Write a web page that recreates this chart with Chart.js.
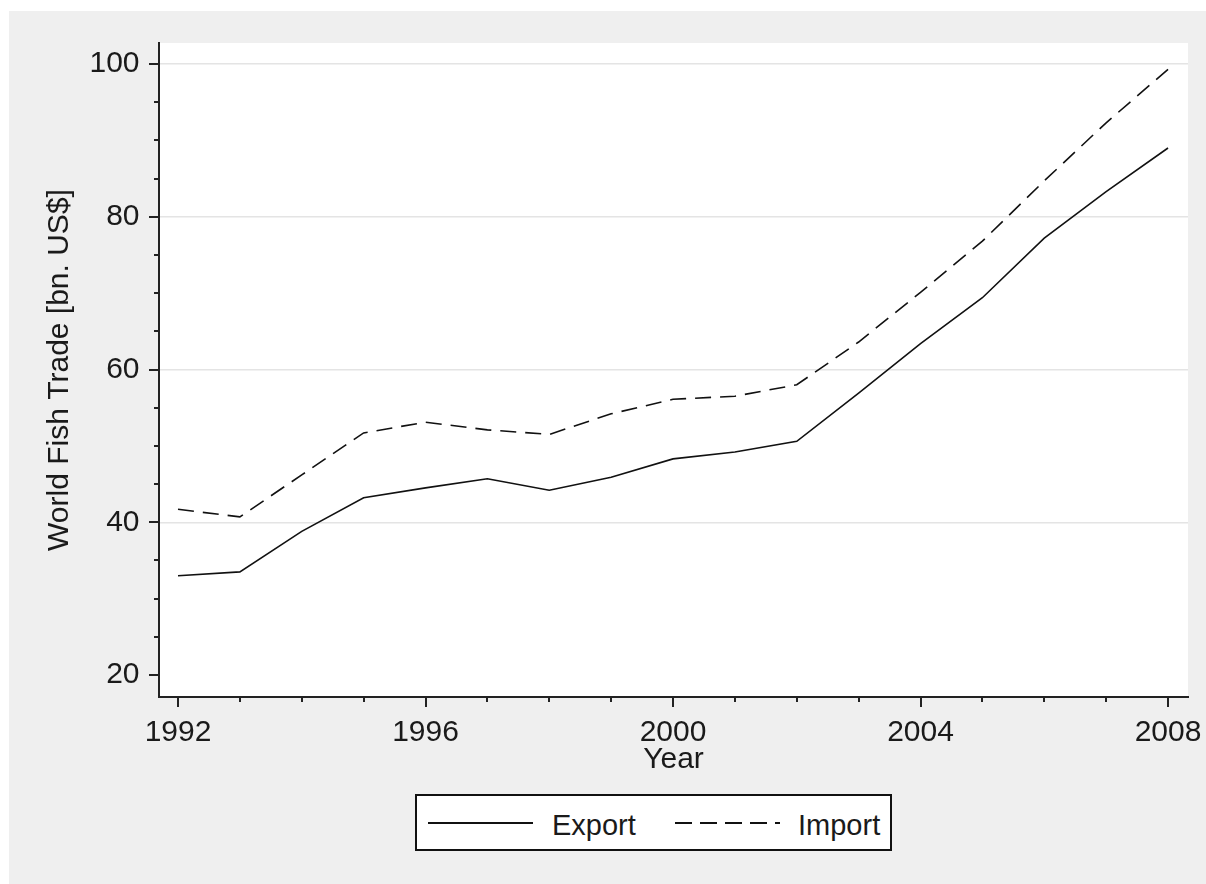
<!DOCTYPE html>
<html>
<head>
<meta charset="utf-8">
<script src="https://cdn.jsdelivr.net/npm/chart.js@4.4.1/dist/chart.umd.min.js"></script>
<style>
  body { margin: 0; background: #fff; font-family: "Liberation Sans", Arial, sans-serif; }
  #fundo { position: absolute; left: 9px; top: 11px; width: 1197px; height: 873px; background: #efefef; }
  #fundo canvas { position: absolute; left: 0; top: 0; }
  #legenda { position: absolute; left: 406px; top: 783px; width: 477px; height: 57px; box-sizing: border-box;
    border: 2px solid #111; background: #fff; color: #1a1a1a; font-size: 29px; }
  #legenda .linha { position: absolute; top: 26px; width: 105px; height: 2px; }
  #legenda span { position: absolute; top: 15px; line-height: 29px; }
</style>
</head>
<body>
<div id="fundo">
  <canvas id="grafico" width="1197" height="873"></canvas>
  <div id="legenda">
    <div class="linha" style="left:11px; background:#111"></div>
    <span style="left:135px">Export</span>
    <svg class="linha" style="left:258px" width="105" height="2"><line x1="0" y1="1" x2="105" y2="1" stroke="#111" stroke-width="2" stroke-dasharray="17 8"/></svg>
    <span style="left:381px">Import</span>
  </div>
</div>
<script>
// dados (bilhões de US$)
const anos = [1992, 1993, 1994, 1995, 1996, 1997, 1998, 1999, 2000, 2001, 2002, 2003, 2004, 2005, 2006, 2007, 2008]
const exportacao = [33.0, 33.5, 38.8, 43.2, 44.5, 45.7, 44.2, 45.9, 48.3, 49.2, 50.6, 56.9, 63.4, 69.4, 77.2, 83.3, 89.0]
const importacao = [41.7, 40.7, 46.2, 51.7, 53.1, 52.1, 51.5, 54.2, 56.1, 56.5, 58.0, 63.6, 70.1, 76.8, 84.7, 92.3, 99.3]
const marcasX = [1992, 1996, 2000, 2004, 2008]
const marcasY = [20, 40, 60, 80, 100]

Chart.defaults.font.family = '"Liberation Sans", Arial, sans-serif'
Chart.defaults.font.size = 30
Chart.defaults.color = '#1a1a1a'

// fundo branco da área do gráfico + tracinhos dos eixos
const tracinhos = {
  id: 'tracinhos',
  beforeDraw(chart) {
    const {ctx, chartArea: a} = chart
    ctx.save()
    ctx.fillStyle = '#fff'
    ctx.fillRect(a.left, a.top, a.right - a.left, a.bottom - a.top)
    ctx.restore()
  },
  afterDraw(chart) {
    const {ctx, chartArea: a, scales} = chart
    ctx.save()
    ctx.strokeStyle = '#222'
    ctx.lineWidth = 2
    scales.x.ticks.forEach(t => {
      const px = Math.round(scales.x.getPixelForValue(t.value))
      const len = marcasX.includes(t.value) ? 10 : 5
      ctx.beginPath(); ctx.moveTo(px, a.bottom); ctx.lineTo(px, a.bottom + len); ctx.stroke()
    })
    scales.y.ticks.forEach(t => {
      const py = Math.round(scales.y.getPixelForValue(t.value))
      const len = marcasY.includes(t.value) ? 10 : 5
      ctx.beginPath(); ctx.moveTo(a.left, py); ctx.lineTo(a.left - len, py); ctx.stroke()
    })
    ctx.restore()
  }
}

const ctx = document.getElementById('grafico')
new Chart(ctx, {
  type: 'line',
  data: {
    datasets: [{
      label: 'Export',
      data: anos.map((ano, i) => ({x: ano, y: exportacao[i]})),
      borderColor: '#111',
      borderWidth: 1.6,
      pointRadius: 0,
      tension: 0
    }, {
      label: 'Import',
      data: anos.map((ano, i) => ({x: ano, y: importacao[i]})),
      borderColor: '#111',
      borderWidth: 1.6,
      borderDash: [16, 9],
      pointRadius: 0,
      tension: 0
    }]
  },
  options: {
    responsive: false,
    animation: false,
    devicePixelRatio: 1,
    layout: { padding: { top: 32, right: 18, bottom: 106.5, left: 0 } },
    plugins: { legend: { display: false }, tooltip: { enabled: false } },
    scales: {
      x: {
        type: 'linear',
        min: 1991.693,
        max: 2008.323,
        border: { color: '#222', width: 2 },
        grid: { drawOnChartArea: false, drawTicks: false },
        ticks: {
          stepSize: 1, includeBounds: false, autoSkip: false, maxRotation: 0, padding: 18,
          callback: v => marcasX.includes(v) ? String(v) : ''
        },
        title: { display: true, text: 'Year', padding: 0 },
        afterFit: s => { s.height = 80.5; s.paddingLeft = 0; s.paddingRight = 0 }
      },
      y: {
        min: 17.12,
        max: 102.75,
        border: { color: '#222', width: 2 },
        grid: {
          drawTicks: false,
          lineWidth: 1.5,
          color: c => (marcasY.includes(c.tick.value) && c.tick.value !== 20) ? '#e4e4e4' : 'rgba(0,0,0,0)'
        },
        ticks: {
          stepSize: 5, includeBounds: false, autoSkip: false, padding: 19.5,
          callback: v => marcasY.includes(v) ? String(v) : ''
        },
        title: { display: true, text: 'World Fish Trade [bn. US$]', padding: { top: 32.5, bottom: 0 } },
        afterFit: s => { s.width = 150; s.paddingTop = 0; s.paddingBottom = 0 }
      }
    }
  },
  plugins: [tracinhos]
})
</script>
</body>
</html>
